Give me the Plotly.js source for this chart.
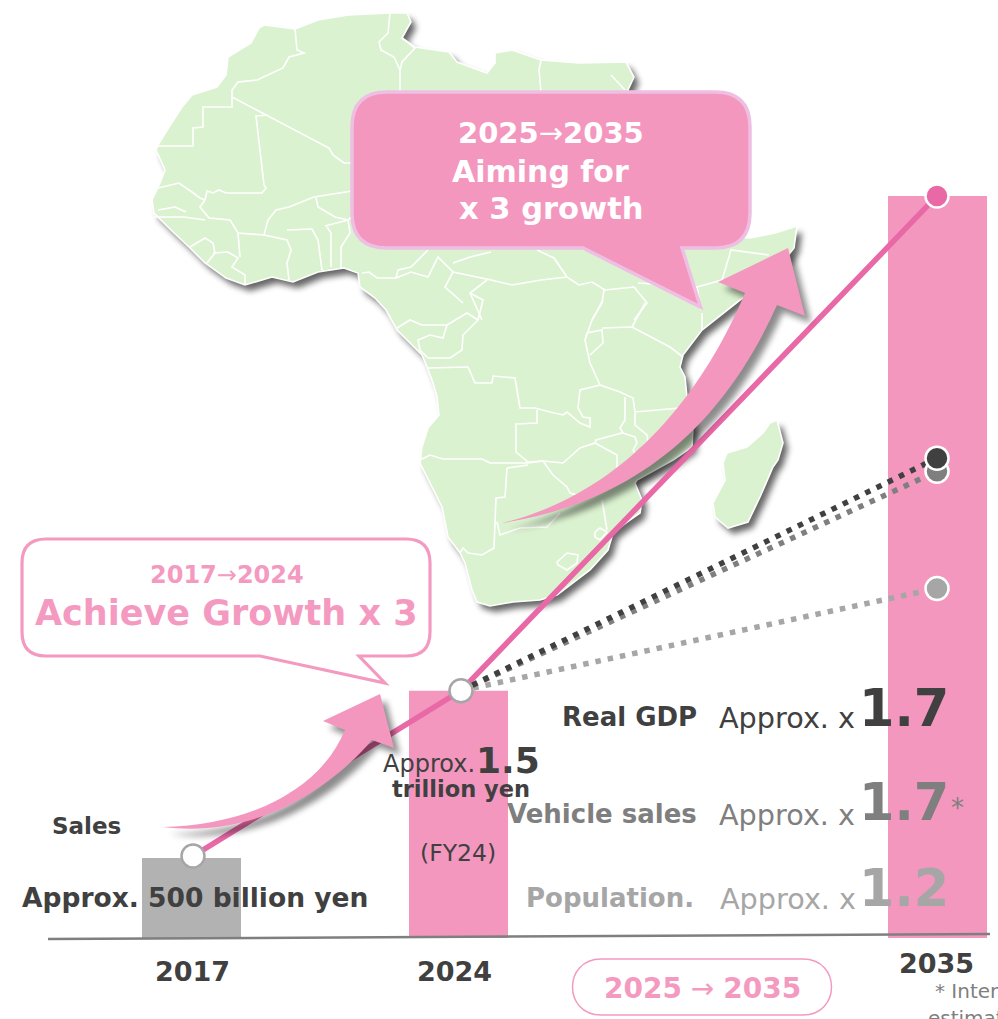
<!DOCTYPE html>
<html><head><meta charset="utf-8">
<script src="https://cdn.plot.ly/plotly-3.0.1.min.js"></script>
<style>html,body{margin:0;padding:0;background:#fff;overflow:hidden}#c{width:998px;height:1019px}</style>
</head><body><div id="c"></div>
<script>
// ---- chart data ----
const years = ['2017','2024','2035'];
const barValues = [0.485,1.5,4.5];      // sales, trillion yen
const salesLine = [0.497,1.5,4.5];
const gdpLine = [1.5,2.91];
const vehicleLine = [1.5,2.83];
const populationLine = [1.5,2.12];
const metricNames = ['Real GDP','Vehicle sales','Population.'];
const metricFactors = ['1.7','1.7','1.2'];

// ---- layout helpers (not data) ----
const barCentres = [191.5,458.5,937.5];
const pointX = [193,461,937];
const PINK='#f397bf', LINE='#e968a6', DARK='#404040', MID='#7f7f7f', LIGHT='#a6a6a6', MAP='#dbf2d0';
const FONT='"DejaVu Sans"';

const coast = [[264,25],[295,29],[318,20],[348,15],[390,13],[407,13],[411,22],[402,38],[415,47],[449,52],[457,62],[487,73],[495,63],[495,53],[512,50],[541,60],[579,63],[626,62],[634,77],[628,90],[640,130],[660,170],[690,210],[715,235],[750,238],[775,233],[797,226],[794,248],[770,278],[740,300],[702,330],[683,355],[680,367],[685,377],[687,397],[693,427],[692,447],[673,460],[637,480],[635,483],[642,500],[640,513],[627,522],[613,533],[608,550],[590,570],[557,595],[540,600],[513,602],[490,606],[477,602],[472,590],[465,563],[460,553],[448,537],[442,507],[430,483],[420,463],[422,447],[428,428],[439,415],[437,397],[433,383],[427,367],[422,355],[397,330],[386,310],[375,298],[360,287],[358,273],[344,268],[318,272],[293,282],[272,277],[245,285],[226,278],[205,263],[190,248],[171,230],[154,213],[152,200],[160,183],[165,170],[156,150],[158,145],[169,127],[182,107],[192,95],[217,87],[226,75],[228,57],[251,43],[259,28]];
const madagascar = [[777,420],[783,443],[778,460],[773,467],[760,497],[748,522],[728,528],[715,517],[713,503],[725,480],[723,463],[727,453],[747,447],[763,433],[770,423]];
const borders = [
[[295,29],[297,50],[304,53],[289,57],[283,68],[257,80],[238,82],[232,90],[232,97]],
[[232,97],[232,107],[203,107],[203,127],[193,128],[193,146],[158,146]],
[[232,97],[329,148],[333,155],[344,163],[352,163]],
[[268,115],[256,116],[264,185],[266,188],[262,193],[226,193],[219,190],[213,193],[207,191],[205,200]],
[[158,188],[179,183],[192,192],[200,198],[205,200]],
[[205,200],[200,207],[209,218],[230,220],[238,233],[264,235],[268,220],[276,210],[289,207],[314,197],[352,191]],
[[158,210],[175,207],[186,212]],
[[154,217],[184,217],[205,220]],
[[190,247],[205,238],[213,243],[215,253],[207,263]],
[[213,253],[228,252],[238,258],[232,267],[245,275],[245,285]],
[[238,233],[240,257]],
[[264,235],[287,240],[291,250],[287,263],[289,280]],
[[287,230],[312,229],[318,240],[322,270]],
[[327,227],[331,233],[331,267]],
[[325,226],[348,220],[350,233],[341,247],[341,268]],
[[316,198],[318,207],[335,217],[348,220],[352,217]],
[[428,250],[411,267],[398,270],[396,278],[377,278],[369,272],[362,273]],
[[396,278],[411,272],[428,277],[438,257],[453,272],[445,287],[463,303]],
[[453,263],[470,257],[491,252]],
[[453,272],[491,280],[512,285],[541,280],[567,277],[579,285],[592,282],[605,290],[634,287]],
[[537,250],[554,258],[567,277]],
[[487,280],[470,293],[482,320]],
[[634,287],[647,303],[634,320]],
[[604,290],[602,303],[592,320]],
[[638,283],[697,287],[701,310]],
[[697,287],[722,280],[731,250],[769,255]],
[[397,328],[410,320],[422,325],[447,325],[443,338],[430,335],[418,340],[420,350],[428,358]],
[[447,325],[467,313],[478,320],[463,335],[462,350],[450,358],[428,358]],
[[478,320],[483,300],[470,293]],
[[427,368],[468,367],[475,383],[492,383],[493,376],[515,378],[520,408],[535,408],[550,412],[563,415],[567,412],[580,423],[590,427],[590,418],[583,417],[578,408],[580,390],[600,385]],
[[603,300],[592,320],[585,340],[590,363],[600,385]],
[[585,340],[587,333],[602,330],[603,343],[590,355]],
[[602,328],[632,327],[670,347],[683,357]],
[[632,327],[645,303]],
[[702,313],[702,330]],
[[600,385],[620,392],[633,398],[635,412],[680,408]],
[[625,397],[625,420],[620,428],[623,433],[635,437],[637,443],[633,450],[635,453]],
[[635,413],[635,425],[647,435],[648,442]],
[[537,410],[537,423],[516,424],[516,452],[528,462],[543,461],[563,463],[580,448],[595,443],[596,440],[622,433]],
[[420,460],[430,455],[443,459],[482,459],[490,463],[528,463],[543,461]],
[[507,468],[528,465]],
[[507,468],[505,497],[496,498],[494,548],[482,555],[468,553],[463,548],[460,553]],
[[543,461],[553,475],[567,487],[570,493],[577,495]],
[[497,522],[500,535],[520,528],[547,527],[560,513]],
[[595,443],[617,455],[617,467],[620,473]],
[[602,500],[607,530]],
[[595,532],[600,528],[607,532],[600,540],[595,537],[595,532]],
[[557,562],[567,553],[578,555],[577,563],[567,570],[558,565],[557,562]],
[[390,13],[388,33],[379,42],[381,50],[394,57],[400,70]],
[[402,38],[415,48],[402,62],[400,70],[400,92]],
[[541,60],[539,70],[541,92]],
[[611,75],[625,90]]
];
const poly = (p,dx=0,dy=0,close=true)=>'M'+p.map(q=>(q[0]+dx)+','+(q[1]+dy)).join('L')+(close?'Z':'');
const arrow1 = (d,e)=>`M${163+d},${827+e} C${250+d},${825+e} ${320+d},${790+e} ${345+d},${730+e} L${323+d},${721+e} L${380+d},${694+e} L${394+d},${748+e} L${372+d},${740+e} C${325+d},${795+e} ${250+d},${838+e} ${163+d},${827+e}Z`;
const arrow2 = (d,e)=>`M${502+d},${523+e} C${620+d},${495+e} ${700+d},${400+e} ${745+d},${293+e} L${718+d},${282+e} L${788+d},${248+e} L${805+d},${316+e} L${777+d},${305+e} C${730+d},${410+e} ${650+d},${500+e} ${502+d},${523+e}Z`;

const S = (path,fill,lineColor,lineW,layer,op)=>({type:'path',xref:'x',yref:'y2',path,fillcolor:fill||'rgba(0,0,0,0)',
  line:{color:lineColor||'rgba(0,0,0,0)',width:lineW||0},layer:layer||'below',opacity:op==null?1:op});
const shapes=[];
// map shadow (blurred after drawing)
shapes.push(S(poly(coast,5,6),'#000',null,0,'below',.6));
shapes.push(S(poly(madagascar,5,6),'#000',null,0,'below',.6));
shapes.push(S(poly(coast),MAP,'#fff',1.6));
shapes.push(S(poly(madagascar),MAP,'#fff',1.6));
borders.forEach(b=>shapes.push(S(poly(b,0,0,false),null,'#fff',1.6)));
// baseline
shapes.push(S('M48,939L990,934',null,MID,2.5,'above'));
// arrows with soft shadow
[arrow1,arrow2].forEach(fn=>{
  shapes.push(S(fn(6,7),'#000',null,0,'above',.45));
  shapes.push(S(fn(0,0),PINK,null,0,'above'));
});
// callouts
shapes.push(S('M387,92 L715,92 Q750,92 750,127 L750,213 Q750,248 715,248 L682,248 L700.5,307 L583,248 L387,248 Q352,248 352,213 L352,127 Q352,92 387,92Z',PINK,'#eebfe3',3.5,'above'));
shapes.push(S('M46,539 L406,539 Q430,539 430,563 L430,632 Q430,656 406,656 L359,656 L385,683 L260,656 L46,656 Q22,656 22,632 L22,563 Q22,539 46,539Z','#fff','#f49ac1',3.2,'above'));
shapes.push(S('M601,959 L803,959 C841,959 841,1015 803,1015 L601,1015 C563,1015 563,959 601,959Z','#fff','#f49ac1',1.5,'above'));

const T=(text,x,y,size,color,bold,anchor)=>({text:bold?'<b>'+text+'</b>':text,x,y,xref:'x',yref:'y2',xanchor:anchor||'center',yanchor:'middle',
  showarrow:false,font:{family:FONT,size,color},align:'center'});
const metricColors=[DARK,MID,LIGHT], metricY=[717,814,898], factorY=[708,802,888];
const annotations=[
  T('<b>2025</b>→<b>2035</b>',551,133,29,'#fff',false),
  T('Aiming for',540,171,30,'#fff',true),
  T('x 3 growth',550.5,208,30.5,'#fff',true),
  T('<b>2017</b>→<b>2024</b>',226.5,575,24,'#f49ac1',false),
  T('Achieve Growth x 3',226,613,35,'#f49ac1',true),
  T('Sales',86,826,23,DARK,true),
  T('Approx. 500 billion yen',194.5,897,26.5,DARK,true),
  T('Approx.',429,764,24,DARK,false),
  T('1.5',508,760,36,DARK,true),
  T('trillion yen',461,789,22.5,DARK,true),
  T('(FY24)',458,853,23.5,DARK,false),
  T(years[0],192,971,27,DARK,true),
  T(years[1],454.5,971,27,DARK,true),
  T(years[2],936,963,27,DARK,true),
  T('<b>2025</b> → <b>2035</b>',702,988,28,'#f49ac1',false),
  T('*',957,808,26,MID,false),
  T('* Internal',933,991,20,MID,false,'left'),
  T('estimate',926,1018,20,MID,false,'left')
];
metricNames.forEach((n,i)=>{
  annotations.push(T(n,i==2?696:699,metricY[i],26,metricColors[i],true,'right'));
  annotations.push(T('Approx. x',i==2?718:717,metricY[i]+1,28.7,metricColors[i],false,'left'));
  annotations.push(T(metricFactors[i],904,factorY[i],51,metricColors[i],true));
});

const dotted=(vals,c)=>({x:[pointX[1],pointX[2]],y:vals,type:'scatter',mode:'lines',line:{color:c,width:5.5,dash:'5.5px,7px'},hoverinfo:'skip',showlegend:false});
const dot=(i,v,c,lc,lw,sz)=>({x:[pointX[i]],y:[v],type:'scatter',mode:'markers',marker:{color:c,size:sz,line:{color:lc,width:lw}},hoverinfo:'skip',showlegend:false});
const data=[
  {x:barCentres,y:barValues,type:'bar',width:99,marker:{color:['#b2b2b2',PINK,PINK]},hoverinfo:'skip',showlegend:false},
  {x:pointX,y:salesLine,type:'scatter',mode:'lines',line:{color:LINE,width:5.5},hoverinfo:'skip',showlegend:false},
  dotted(populationLine,LIGHT),
  dotted(vehicleLine,MID),
  dotted(gdpLine,DARK),
  dot(0,salesLine[0],'#fff',LIGHT,2.5,23),
  dot(1,salesLine[1],'#fff',LIGHT,2.5,23),
  dot(2,salesLine[2],LINE,'#fff',2.5,23),
  dot(2,populationLine[1],LIGHT,'#fff',2.5,23),
  dot(2,vehicleLine[1],MID,'#fff',2.5,23),
  dot(2,gdpLine[1],DARK,'#fff',2.5,23),
  {x:[null],y:[null],yaxis:'y2',type:'scatter',hoverinfo:'skip',showlegend:false}
];
const pxPer=164.9, zeroPx=938;
Plotly.newPlot('c',data,{
  width:998,height:1019,margin:{l:0,r:0,t:0,b:0},paper_bgcolor:'#fff',plot_bgcolor:'rgba(0,0,0,0)',showlegend:false,
  xaxis:{range:[0,998],visible:false,fixedrange:true},
  yaxis:{range:[-(1019-zeroPx)/pxPer,zeroPx/pxPer],visible:false,fixedrange:true},
  yaxis2:{range:[1019,0],visible:false,overlaying:'y',fixedrange:true},
  shapes,annotations
},{displayModeBar:false,staticPlot:true}).then(()=>{
  document.querySelectorAll('.shapelayer path').forEach(p=>{
    if(p.style.fill==='rgb(0, 0, 0)' && p.style.fillOpacity!=='0' && p.style.strokeWidth==='0px') p.style.filter='blur(3px)';
  });
});
</script></body></html>
